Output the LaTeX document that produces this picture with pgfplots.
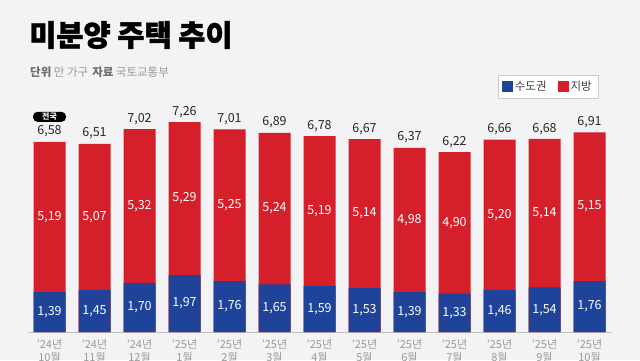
\documentclass[border=0pt]{standalone}
\usepackage{fontspec}
\setmainfont{Noto Sans CJK KR}
\newfontfamily\titlefont[BoldFeatures={FakeBold=1.6}]{Noto Sans CJK KR}
\usepackage{pgfplots}
\pgfplotsset{compat=1.18}
\usepackage{pgfplotstable}
\definecolor{bg}{HTML}{F3F3F5}
\definecolor{cblue}{HTML}{1E4398}
\definecolor{cred}{HTML}{D51F2A}
\definecolor{g1}{HTML}{6E6E6E}
\definecolor{g2}{HTML}{9A9A9A}
\definecolor{tickgray}{HTML}{9A9A9A}
\pgfplotstableread{
x blue red total
0 1.39 5.19 6.58
1 1.45 5.07 6.51
2 1.70 5.32 7.02
3 1.97 5.29 7.26
4 1.76 5.25 7.01
5 1.65 5.24 6.89
6 1.59 5.19 6.78
7 1.53 5.14 6.67
8 1.39 4.98 6.37
9 1.33 4.90 6.22
10 1.46 5.20 6.66
11 1.54 5.14 6.68
12 1.76 5.15 6.91
}\data
\begin{document}
\begin{tikzpicture}[x=1pt,y=1pt]
\fill[bg] (0,0) rectangle (640,360);
\useasboundingbox (0,0) rectangle (640,360);
\node[anchor=west, inner sep=0, font=\titlefont\bfseries\fontsize{29.5}{31}\selectfont] at (29,325) {미분양 주택 추이};
\node[anchor=west, inner sep=0, font=\fontsize{11.5}{13}\selectfont] at (30,288) {\textcolor{g1}{\bfseries 단위} \textcolor{g2}{만 가구}\hspace{4pt}\textcolor{g1}{\bfseries 자료} \textcolor{g2}{국토교통부}};
\begin{axis}[
  at={(28pt,28pt)}, anchor=south west, scale only axis,
  width=584pt, height=250pt,
  xmin=-0.478, xmax=12.5, ymin=0, ymax=8.65,
  axis x line*=bottom, axis y line=none,
  x axis line style={draw=black!25, line width=0.8pt, -},
  xtick={0,...,12}, major tick length=0pt,
  xticklabels={{’24년\\10월},{’24년\\11월},{’24년\\12월},{’25년\\1월},{’25년\\2월},{’25년\\3월},{’25년\\4월},{’25년\\5월},{’25년\\6월},{’25년\\7월},{’25년\\8월},{’25년\\9월},{’25년\\10월}},
  xticklabel style={font=\fontsize{11}{12.5}\selectfont, text=tickgray, align=center, yshift=-4pt},
  legend style={at={(0.976,1.028)}, anchor=north east, draw=black!20, fill=white,
    font=\fontsize{11.5}{13}\selectfont, text=black!75, inner xsep=4pt, inner ysep=4pt,
    /tikz/every even column/.append style={column sep=9pt}},
  legend columns=2, reverse legend,
  legend image code/.code={\path[#1] (0pt,-5.5pt) rectangle (11pt,5.5pt);},
  clip=false,
]
\addplot[ybar, bar width=32pt, bar shift=0pt, fill=cred, draw=none] table[x=x,y=total]{\data};
\addlegendentry{지방}
\addplot[ybar, bar width=32pt, bar shift=0pt, fill=cblue, draw=none] table[x=x,y=blue]{\data};
\addlegendentry{수도권}
% inner labels (blue)
\addplot[draw=none, mark=none, forget plot, point meta=explicit,
  nodes near coords={\pgfmathprintnumber[fixed, fixed zerofill, precision=2, use comma, assume math mode=true]{\pgfplotspointmeta}},
  every node near coord/.append style={anchor=center, text=white, font=\fontsize{12.5}{14}\selectfont}]
  table[x=x, y expr=\thisrow{blue}/2, meta=blue]{\data};
% inner labels (red)
\addplot[draw=none, mark=none, forget plot, point meta=explicit,
  nodes near coords={\pgfmathprintnumber[fixed, fixed zerofill, precision=2, use comma, assume math mode=true]{\pgfplotspointmeta}},
  every node near coord/.append style={anchor=center, text=white, font=\fontsize{12.5}{14}\selectfont}]
  table[x=x, y expr=\thisrow{blue}+\thisrow{red}/2, meta=red]{\data};
% totals
\addplot[draw=none, mark=none, forget plot, point meta=explicit,
  nodes near coords={\pgfmathprintnumber[fixed, fixed zerofill, precision=2, use comma, assume math mode=true]{\pgfplotspointmeta}},
  every node near coord/.append style={anchor=south, yshift=1pt, text=black!85, font=\fontsize{12.5}{14}\selectfont}]
  table[x=x, y=total, meta=total]{\data};
\node[fill=black, text=white, rounded corners=4.5pt, font=\bfseries\fontsize{8}{8}\selectfont, minimum width=33pt, minimum height=10pt, inner sep=0pt, yshift=25pt] at (axis cs:0,6.58) {전국};
\end{axis}
\end{tikzpicture}
\end{document}
